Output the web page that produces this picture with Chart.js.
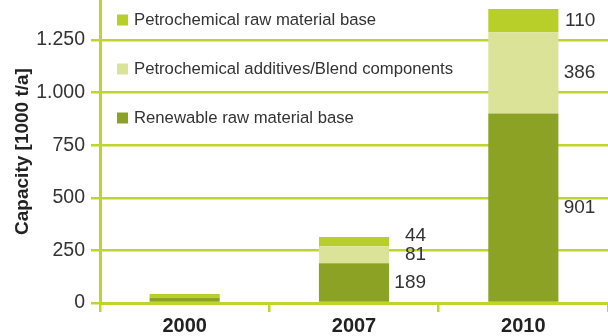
<!DOCTYPE html>
<html>
<head>
<meta charset="utf-8">
<script src="https://cdn.jsdelivr.net/npm/chart.js@4/dist/chart.umd.min.js"></script>
<style>
  html, body { margin: 0; padding: 0; background: #fff; }
  #wrap { width: 608px; height: 336px; }
</style>
</head>
<body>
<div id="wrap"><canvas id="capacityChart" width="608" height="336"></canvas></div>
<script>
// values
const years = ['2000', '2007', '2010'];
const renewable = [25, 189, 901];
const additives = [0, 81, 386];
const petroRaw = [18, 44, 110];
const showValues = [false, true, true];
const yTicks = [0, 250, 500, 750, 1000, 1250];

const lineGreen = '#c0d42e';
const textColor = '#333333';
const fontFamily = '"Liberation Sans", Arial, sans-serif';

// thousands with a dot, like "1.250"
const fmt = v => String(v).replace(/\B(?=(\d{3})+(?!\d))/g, '.');

// numbers to the right of each stacked segment
const valueLabels = {
  id: 'valueLabels',
  afterDatasetsDraw(chart) {
    const ctx = chart.ctx;
    ctx.save();
    ctx.font = '19px ' + fontFamily;
    ctx.fillStyle = textColor;
    ctx.textAlign = 'right';
    ctx.textBaseline = 'middle';
    years.forEach((y, i) => {
      if (!showValues[i]) return;
      let prevY = Infinity;
      chart.data.datasets.forEach((ds, d) => {
        const el = chart.getDatasetMeta(d).data[i];
        if (!ds.data[i]) return;
        const ty = Math.min((el.y + el.base) / 2, prevY - 19);
        prevY = ty;
        ctx.fillText(ds.data[i], el.x + el.width / 2 + 37, ty);
      });
    });
    ctx.restore();
  }
};

// legend in the upper left of the plot, top series first
const innerLegend = {
  id: 'innerLegend',
  afterDraw(chart) {
    const ctx = chart.ctx;
    const area = chart.chartArea;
    ctx.save();
    ctx.font = '16.7px ' + fontFamily;
    ctx.textBaseline = 'middle';
    const items = chart.data.datasets.slice().reverse();
    items.forEach((ds, k) => {
      const cy = area.top + 20 + k * 49;
      ctx.fillStyle = ds.backgroundColor;
      ctx.fillRect(area.left + 17, cy - 5.5, 11, 11);
      ctx.fillStyle = textColor;
      ctx.fillText(ds.label, area.left + 34, cy);
    });
    ctx.restore();
  }
};

const ctx = document.getElementById('capacityChart').getContext('2d');
new Chart(ctx, {
  type: 'bar',
  data: {
    labels: years,
    datasets: [
      { label: 'Renewable raw material base', data: renewable, backgroundColor: '#8ca224' },
      { label: 'Petrochemical additives/Blend components', data: additives, backgroundColor: '#dbe399' },
      { label: 'Petrochemical raw material base', data: petroRaw, backgroundColor: '#b9cf29' }
    ]
  },
  options: {
    responsive: false,
    animation: false,
    layout: { padding: 0, autoPadding: false },
    datasets: { bar: { categoryPercentage: 1, barPercentage: 0.414 } },
    plugins: { legend: { display: false }, tooltip: { enabled: false } },
    scales: {
      x: {
        stacked: true,
        grid: { offset: true, drawOnChartArea: false, color: lineGreen, lineWidth: 2.5, tickLength: 9 },
        border: { color: lineGreen, width: 3 },
        ticks: { color: '#222', padding: 2, font: { family: fontFamily, size: 20, weight: 'bold' } },
        afterFit: s => { s.height = 33; s.paddingLeft = 0; s.paddingRight = 0; }
      },
      y: {
        stacked: true,
        min: 0,
        max: 1440,
        ticks: {
          color: textColor,
          padding: 6,
          font: { family: fontFamily, size: 19.5 },
          callback: v => fmt(v)
        },
        afterBuildTicks: axis => { axis.ticks = yTicks.map(v => ({ value: v })); },
        grid: { color: lineGreen, lineWidth: 2.5, tickLength: 9 },
        border: { color: lineGreen, width: 3 },
        title: {
          display: true,
          text: 'Capacity [1000 t/a]',
          color: '#222',
          padding: { top: 11, bottom: 0 },
          font: { family: fontFamily, size: 19, weight: 'bold' }
        },
        afterFit: s => { s.width = 100; s.paddingTop = 0; s.paddingBottom = 0; }
      }
    }
  },
  plugins: [valueLabels, innerLegend]
});
</script>
</body>
</html>
